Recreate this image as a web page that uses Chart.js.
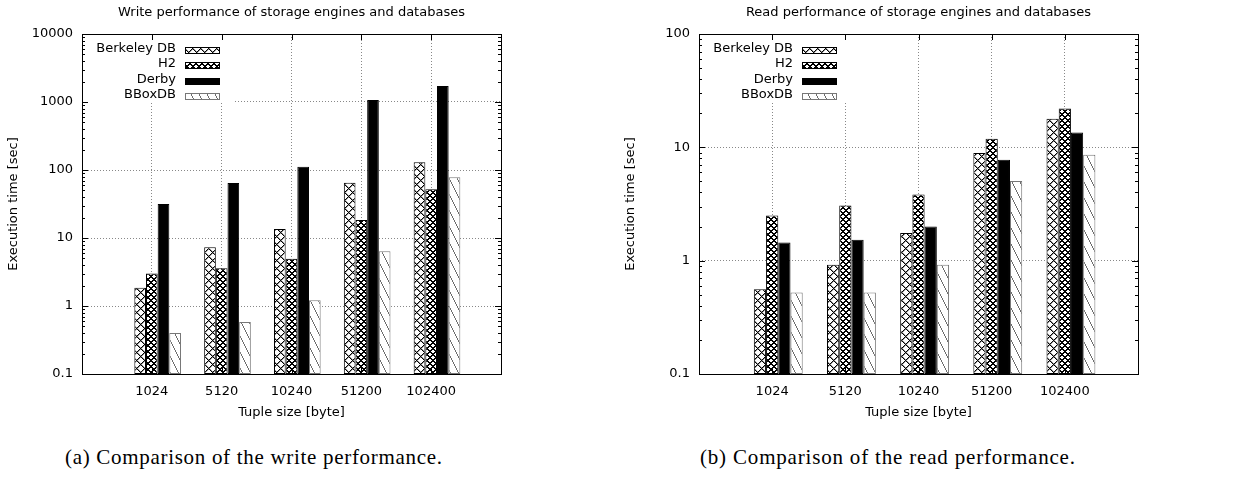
<!DOCTYPE html>
<html><head><meta charset="utf-8">
<script src="https://cdn.jsdelivr.net/npm/chart.js@4/dist/chart.umd.min.js"></script>
<style>
html,body{margin:0;padding:0;background:#fff;}
body{width:1235px;height:477px;position:relative;overflow:hidden;}
#c1{position:absolute;left:0;top:0;}
#c2{position:absolute;left:617px;top:0;}
.cap{position:absolute;top:445px;height:24px;line-height:24px;font-family:"Liberation Serif",serif;font-size:21px;white-space:nowrap;color:#000;}
</style></head><body>
<canvas id="c1" width="520" height="430"></canvas>
<canvas id="c2" width="540" height="430"></canvas>
<div class="cap" id="capA">(a) Comparison of the write performance.</div>
<div class="cap" id="capB">(b) Comparison of the read performance.</div>
<script>
// ---- data ----
const categories = ['1024', '5120', '10240', '51200', '102400'];
const seriesNames = ['Berkeley DB', 'H2', 'Derby', 'BBoxDB'];
const writeBerkeley = [1.86, 7.3, 13.6, 65, 130];
const writeH2 = [3.0, 3.6, 4.96, 18.4, 52];
const writeDerby = [31.6, 64.4, 112, 1070, 1718];
const writeBBox = [0.40, 0.58, 1.22, 6.36, 78];
const readBerkeley = [0.56, 0.92, 1.75, 8.9, 17.9];
const readH2 = [2.5, 3.06, 3.83, 11.9, 22];
const readDerby = [1.45, 1.53, 2.0, 7.78, 13.5];
const readBBox = [0.525, 0.525, 0.92, 5.05, 8.6];
const writeTicks = [0.1, 1, 10, 100, 1000, 10000];
const readTicks = [0.1, 1, 10, 100];

Chart.defaults.font.family = 'DejaVu Sans';
Chart.defaults.font.size = 13;
Chart.defaults.color = '#000';

function makeTile(w, h, fn) {
  const c = document.createElement('canvas');
  c.width = w; c.height = h;
  const g = c.getContext('2d');
  const img = g.createImageData(w, h);
  for (let y = 0; y < h; y++) for (let x = 0; x < w; x++) {
    const v = fn(x, y); const i = (y * w + x) * 4;
    img.data[i] = v; img.data[i + 1] = v; img.data[i + 2] = v; img.data[i + 3] = 255;
  }
  g.putImageData(img, 0, 0);
  return c;
}
const mod = (a, n) => ((a % n) + n) % n;
const tiles = [
  makeTile(8, 8, (x, y) => (mod(x + y, 8) === 0 || mod(x - y, 8) === 0) ? 0 : (mod(x + y, 8) === 1 || mod(x - y, 8) === 1) ? 150 : 255),
  makeTile(6, 6, (x, y) => (mod(x + y, 6) < 2 || mod(x - y, 6) < 2) ? 0 : 255),
  null,
  makeTile(8, 16, (x, y) => (x === Math.floor(y / 2)) ? 110 : 255)
];

function fills(ctx) {
  return [
    ctx.createPattern(tiles[0], 'repeat'),
    ctx.createPattern(tiles[1], 'repeat'),
    '#000',
    ctx.createPattern(tiles[3], 'repeat')
  ];
}
const borders = ['#000', '#000', '#000', '#777'];

const decoPlugin = {
  id: 'deco',
  afterDatasetsDraw(chart) {
    const { ctx, chartArea: a, scales: { x, y } } = chart;
    ctx.save();
    // legend box (opaque)
    ctx.fillStyle = '#fff';
    ctx.fillRect(a.left + 1, a.top + 1, 150, 68);
    ctx.font = '13px "DejaVu Sans"';
    ctx.textAlign = 'right';
    ctx.textBaseline = 'middle';
    const ds = chart.data.datasets;
    for (let i = 0; i < seriesNames.length; i++) {
      const d = ds[i + 1];
      const cy = a.top + 14.5 + i * 15.5;
      ctx.fillStyle = '#000';
      ctx.fillText(d.label, a.left + 94, cy);
      ctx.fillStyle = d.backgroundColor;
      ctx.fillRect(a.left + 103, Math.round(cy - 2), 35, 7);
      ctx.strokeStyle = d.borderColor; ctx.lineWidth = 1;
      ctx.strokeRect(a.left + 103.5, Math.round(cy - 2) + 0.5, 34, 6);
    }
    // ticks
    ctx.strokeStyle = '#000'; ctx.lineWidth = 1;
    ctx.beginPath();
    const yt = y.ticks.map(t => t.value);
    yt.forEach(v => {
      const py = Math.round(y.getPixelForValue(v)) + 0.5;
      ctx.moveTo(a.left, py); ctx.lineTo(a.left + 6, py);
      ctx.moveTo(a.right, py); ctx.lineTo(a.right - 6, py);
    });
    for (let d = y.min; d < y.max * 0.999; d *= 10) {
      for (let k = 2; k <= 9; k++) {
        const py = Math.round(y.getPixelForValue(d * k)) + 0.5;
        ctx.moveTo(a.left, py); ctx.lineTo(a.left + 3, py);
        ctx.moveTo(a.right, py); ctx.lineTo(a.right - 3, py);
      }
    }
    x.ticks.forEach((t, i) => {
      if (!chart.data.labels[i]) return;
      const px = Math.round(x.getPixelForTick(i)) + 0.5;
      ctx.moveTo(px, a.bottom); ctx.lineTo(px, a.bottom - 6);
      ctx.moveTo(px, a.top); ctx.lineTo(px, a.top + 6);
    });
    ctx.stroke();
    ctx.strokeRect(Math.round(a.left) + 0.5, Math.round(a.top) + 0.5, Math.round(a.right - a.left), Math.round(a.bottom - a.top));
    ctx.restore();
  }
};

function makeChart(id, titleText, series, tickVals, yMax) {
  const canvas = document.getElementById(id);
  const ctx = canvas.getContext('2d');
  const f = fills(ctx);
  const labels = [''].concat(categories, ['']);
  const datasets = [{ label: '', data: labels.map(() => null), backgroundColor: 'rgba(0,0,0,0)', borderWidth: 0 }];
  series.forEach((vals, i) => {
    datasets.push({
      label: seriesNames[i],
      data: [null].concat(vals, [null]),
      backgroundColor: f[i],
      borderColor: borders[i],
      borderWidth: 1,
      borderSkipped: false,
      barPercentage: 1,
      categoryPercentage: 0.835
    });
  });
  datasets[0].barPercentage = 1; datasets[0].categoryPercentage = 0.835;
  const font = { family: 'DejaVu Sans', size: 13, weight: 'normal' };
  return new Chart(ctx, {
    type: 'bar',
    data: { labels, datasets },
    options: {
      responsive: false, animation: false,
      layout: { padding: { left: 0, right: 19, top: 0, bottom: 0 } },
      plugins: {
        legend: { display: false }, tooltip: { enabled: false },
        title: { display: true, text: titleText, fullSize: false, color: '#000', font, padding: { top: 4.7, bottom: 13.7 } }
      },
      scales: {
        x: {
          type: 'category', offset: false,
          grid: { offset: false, color: '#888', lineWidth: 1, drawTicks: false },
          border: { display: false, dash: [1, 2] },
          ticks: { color: '#000', font, padding: 10, autoSkip: false, maxRotation: 0 },
          title: { display: true, text: 'Tuple size [byte]', color: '#000', font, padding: { top: 0, bottom: 9.2 } },
          afterFit: s => { s.height = 56; }
        },
        y: {
          type: 'logarithmic', min: 0.1, max: yMax,
          grid: { color: '#888', lineWidth: 1, drawTicks: false },
          border: { display: false, dash: [1, 2] },
          ticks: { color: '#000', font, padding: 9, callback: v => String(v) },
          afterBuildTicks: s => { s.ticks = tickVals.map(v => ({ value: v })); },
          title: { display: true, text: 'Execution time [sec]', color: '#000', font, padding: { top: 6.2, bottom: 0 } },
          afterFit: s => { s.width = 82; }
        }
      }
    },
    plugins: [decoPlugin]
  });
}

makeChart('c1', 'Write performance of storage engines and databases',
  [writeBerkeley, writeH2, writeDerby, writeBBox], writeTicks, 10000);
makeChart('c2', 'Read performance of storage engines and databases',
  [readBerkeley, readH2, readDerby, readBBox], readTicks, 100);

function fitCaption(id, center, target) {
  const el = document.getElementById(id);
  const m = document.createElement('canvas').getContext('2d');
  m.font = '21px "Liberation Serif"';
  const w = m.measureText(el.textContent).width;
  const n = el.textContent.length - 1;
  const ls = (target - w) / n;
  el.style.letterSpacing = ls + 'px';
  el.style.left = (center - target / 2) + 'px';
}
fitCaption('capA', 253.5, 377);
fitCaption('capB', 887.5, 375);
</script>
</body></html>
